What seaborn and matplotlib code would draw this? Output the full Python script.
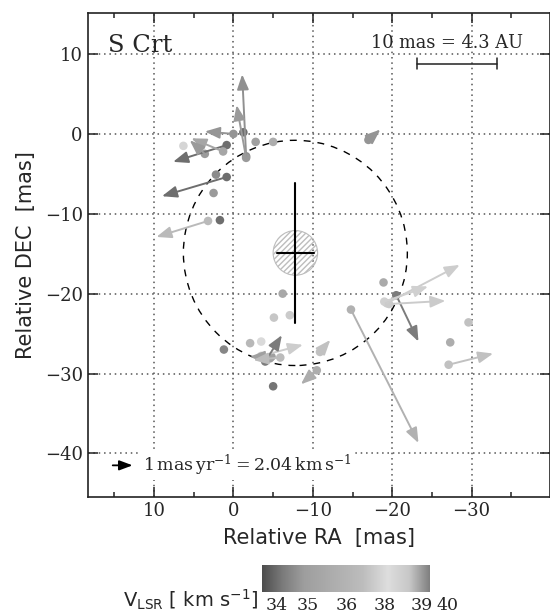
import numpy as np
import pandas as pd
import matplotlib
matplotlib.use("Agg")
import matplotlib.pyplot as plt
import seaborn as sns
from matplotlib.colors import LinearSegmentedColormap
from matplotlib.patches import Circle

# ---------------- data ----------------
# maser spots: relative RA, relative DEC (mas), V_LSR (km/s)
spot_ra = [0.0, -1.25, -1.6, -1.6, -2.8, -5.0, 0.85, 1.3, 3.6, 6.3,
           0.85, 2.2, 2.5, 1.7, 3.2, -17.0, -18.9, -20.5, -19.3, -19.0,
           -19.6, -14.8, -29.6, -27.3, -27.1, 1.2, -2.1, -3.5, -4.6, -5.0,
           -10.5, -10.9, -3.5, -4.0, -4.8, -5.9, -5.1, -7.1, -6.2]
spot_dec = [0.0, 0.2, -2.8, -3.0, -1.0, -1.0, -1.4, -2.2, -2.5, -1.5,
            -5.4, -5.1, -7.4, -10.8, -10.9, -0.75, -18.6, -20.2, -21.2, -21.0,
            -21.3, -22.0, -23.6, -26.1, -28.9, -27.0, -26.2, -26.0, -28.1, -31.6,
            -29.6, -27.3, -27.8, -28.5, -27.9, -28.0, -23.0, -22.7, -20.0]
spot_vlsr = [34.7, 33.9, 34.6, 34.8, 35.0, 35.6, 34.0, 35.3, 34.8, 38.3,
             34.0, 34.5, 34.8, 33.9, 36.5, 34.7, 35.5, 34.2, 37.5, 37.6,
             37.4, 35.8, 37.0, 35.6, 37.0, 34.4, 36.3, 38.0, 35.0, 34.1,
             35.6, 37.0, 37.5, 34.2, 35.0, 36.8, 37.2, 37.4, 35.4]
# proper motions (mas/yr); NaN = no measured motion
pm_ra = [1.44, np.nan, 0.2, 0.48, np.nan, np.nan, 2.7, 1.6, 0.76, np.nan,
         3.26, np.nan, np.nan, np.nan, 2.6, -0.6, np.nan, -1.12, -3.68, -2.2,
         -2.84, -3.4, np.nan, np.nan, -2.24, np.nan, np.nan, np.nan, np.nan, np.nan,
         0.8, -0.52, -2.1, -0.84, 1.1, 1.36, np.nan, np.nan, np.nan]
pm_dec = [0.12, np.nan, 4.1, 2.64, np.nan, np.nan, -0.84, 0.66, 0.68, np.nan,
          -0.96, np.nan, np.nan, np.nan, -0.8, 0.52, np.nan, -2.32, 1.92, 0.76,
          0.16, -6.68, np.nan, np.nan, 0.56, np.nan, np.nan, np.nan, np.nan, np.nan,
          -0.7, 0.6, 0.56, 1.32, 0.0, -0.12, np.nan, np.nan, np.nan]

star_ra, star_dec = -7.8, -14.9
star_err_ra, star_err_dec = 2.3, 8.8
star_radius = 2.8
shell_radius = 14.1

cbar_ticks = [34, 35, 36, 38, 39, 40]
cbar_tick_pos = [0.089, 0.274, 0.506, 0.732, 0.952, 1.107]

pm_scale = 2.5  # mas on sky per mas/yr

# ---------------- style ----------------
sns.set_style("ticks")
plt.rcParams["font.family"] = ["DejaVu Serif"]
plt.rcParams["mathtext.fontset"] = "dejavuserif"

gray_anchors = [(0.0, 0.30), (0.12, 0.48), (0.25, 0.62), (0.45, 0.69),
                (0.6, 0.74), (0.75, 0.87), (0.88, 0.78), (1.0, 0.50)]
cmap = LinearSegmentedColormap.from_list(
    "vlsr", [(p, (g, g, g)) for p, g in gray_anchors])

df = pd.DataFrame({"ra": spot_ra, "dec": spot_dec, "v": spot_vlsr,
                   "pmra": pm_ra, "pmdec": pm_dec})
df["cf"] = np.clip(np.interp(df["v"], cbar_ticks, cbar_tick_pos), 0, 1)

fig = plt.figure(figsize=(5.5, 6.16), dpi=100)
ax = fig.add_axes([87.7 / 550, 1 - 497.3 / 616, (549.5 - 87.7) / 550, (497.3 - 13.3) / 616])

sns.scatterplot(data=df, x="ra", y="dec", hue="cf", palette=cmap, hue_norm=(0, 1),
                s=38, edgecolor="none", legend=False, ax=ax, zorder=3)

for _, r in df.dropna(subset=["pmra"]).iterrows():
    c = cmap(r["cf"])
    ax.annotate("", xy=(r["ra"] + pm_scale * r["pmra"], r["dec"] + pm_scale * r["pmdec"]),
                xytext=(r["ra"], r["dec"]),
                arrowprops=dict(arrowstyle="-|>,head_length=0.9,head_width=0.35",
                                color=c, lw=1.4, shrinkA=0, shrinkB=0,
                                mutation_scale=10), zorder=4)

# star, error cross and shell
ax.add_patch(Circle((star_ra, star_dec), star_radius, fill=False, hatch="//////",
                    edgecolor="#bdbdbd", lw=0.8, zorder=2))
ax.plot([star_ra, star_ra], [star_dec - star_err_dec, star_dec + star_err_dec],
        color="black", lw=1.5, zorder=5)
ax.plot([star_ra - star_err_ra, star_ra + star_err_ra], [star_dec, star_dec],
        color="black", lw=1.5, zorder=5)
ax.add_patch(Circle((star_ra, star_dec), shell_radius, fill=False, ls=(0, (5, 5)),
                    edgecolor="black", lw=1.0, zorder=2))

ax.set_xlim(18.35, -39.8)
ax.set_ylim(-45.5, 15.1)
ax.set_xticks([10, 0, -10, -20, -30])
ax.set_yticks([10, 0, -10, -20, -30, -40])
ax.set_xticks(np.arange(15, -40, -5), minor=True)
ax.set_xticklabels(["10", "0", "\u221210", "\u221220", "\u221230"])
ax.set_yticklabels(["10", "0", "\u221210", "\u221220", "\u221230", "\u221240"])
ax.tick_params(which="both", direction="in", top=True, right=True, labelsize=13,
               width=1.1, color="#222222")
ax.tick_params(which="major", length=7)
ax.tick_params(which="minor", length=3.5)
ax.grid(True, which="major", ls=(0, (1, 2.5)), color="#555555", lw=1.1)
for s in ax.spines.values():
    s.set_linewidth(1.2)
    s.set_color("#222222")

ax.set_xlabel("Relative RA  [mas]", family="DejaVu Sans", fontsize=15, labelpad=6)
ax.set_ylabel("Relative DEC  [mas]", family="DejaVu Sans", fontsize=15, labelpad=6)

ax.text(0.045, 0.957, "S Crt", transform=ax.transAxes, fontsize=17.5, va="top", ha="left")
ax.text(0.778, 0.958, "10 mas = 4.3 AU", transform=ax.transAxes, fontsize=12.8,
        va="top", ha="center")
bar_y = 8.8
ax.plot([-23.1, -33.2], [bar_y, bar_y], color="#222222", lw=1.1)
for bx in (-23.1, -33.2):
    ax.plot([bx, bx], [bar_y - 0.7, bar_y + 0.7], color="#222222", lw=1.1)

# velocity legend arrow
ax.annotate("", xy=(15.2 - pm_scale * 1.0, -41.5), xytext=(15.2, -41.5),
            arrowprops=dict(arrowstyle="-|>,head_length=0.8,head_width=0.3",
                            color="black", lw=1.3, shrinkA=0, shrinkB=0,
                            mutation_scale=10), zorder=6)
ax.text(11.4, -41.5, r"$1\,\mathrm{mas\,yr^{-1}=2.04\,km\,s^{-1}}$", fontsize=12.5,
        va="center", ha="left", zorder=6,
        bbox=dict(facecolor="white", edgecolor="none", pad=1.5))

# colour bar
cax = fig.add_axes([262 / 550, 1 - 592 / 616, 168 / 550, 27 / 616])
grad = np.linspace(0, 1, 256)[None, :]
cax.imshow(grad, aspect="auto", cmap=cmap, extent=(0, 1, 0, 1))
cax.set_xticks([])
cax.set_yticks([])
for s in cax.spines.values():
    s.set_visible(False)
for t, p in zip(cbar_ticks, cbar_tick_pos):
    cax.text(p, -0.2, str(t), transform=cax.transAxes, ha="center", va="top",
             fontsize=12.5, clip_on=False)
fig.text(258 / 550, 1 - 600 / 616, r"V$_\mathregular{LSR}$ [ km s$^\mathregular{-1}$]",
         family="DejaVu Sans", fontsize=14, ha="right", va="center")

fig.savefig("out.png", dpi=100)
